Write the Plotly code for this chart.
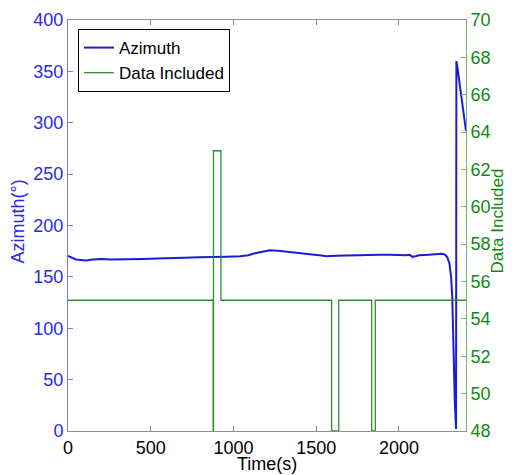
import plotly.graph_objects as go

# Azimuth series (time in s, azimuth in degrees)
time_az = [0, 25, 48, 80, 108, 150, 198, 260, 360, 450, 540, 619, 700, 790, 877,
           960, 1040, 1090, 1130, 1180, 1220, 1270, 1340, 1400, 1460, 1520, 1563,
           1620, 1700, 1800, 1881, 1950, 2001, 2043, 2065, 2080, 2100, 2121, 2180,
           2230, 2260, 2280, 2292, 2305, 2315, 2322, 2326, 2332, 2338, 2345, 2347,
           2352, 2365, 2385, 2405]
azimuth = [170.5, 169, 167, 166.5, 166, 167, 167.5, 167, 167, 167.5, 168, 168, 168.5, 169, 169,
           169.5, 170, 171, 173, 175, 176, 175.5, 174, 173, 172, 171, 170,
           170.5, 171, 171.5, 171.5, 171.5, 171, 171, 171.5, 169.5, 170, 171, 171.5,
           172, 172.5, 171.5, 169, 163, 150, 130, 100, 60, 25, 2, 360,
           355, 340, 315, 292]

# Data Included step series
time_data = [0, 877, 879, 924, 1593, 1636, 1835, 1857, 2405]
data_included = [55, 48, 63, 55, 48, 55, 48, 55, 55]

x_ticks = [0, 500, 1000, 1500, 2000]
y1_ticks = [0, 50, 100, 150, 200, 250, 300, 350, 400]
y2_ticks = [48, 50, 52, 54, 56, 58, 60, 62, 64, 66, 68, 70]

BLUE = "#1c1cd8"
BLUE_TXT = "#2a2ae0"
BLUE_AX = "#7a7ae0"
GREEN = "#2f8f2f"
GREEN_TXT = "#128a12"
GREEN_AX = "#6fb86f"
FONT = "Liberation Sans, Arial, sans-serif"

fig = go.Figure()
fig.add_trace(go.Scatter(x=time_az, y=azimuth, mode="lines", name="Azimuth",
                         line=dict(color=BLUE, width=2)))
fig.add_trace(go.Scatter(x=time_data, y=data_included, mode="lines", name="Data Included",
                         line=dict(color=GREEN, width=1.3, shape="hv"), yaxis="y2"))

# the page body adds an 8px offset; size/margins compensate so the plot sits at 68..466 x 20..431
fig.update_layout(
    width=506, height=467,
    margin=dict(l=60, r=48, t=12, b=44),
    paper_bgcolor="white", plot_bgcolor="white",
    font=dict(family=FONT, size=18, color="black"),
    showlegend=True,
    legend=dict(x=0.025, y=0.978, xanchor="left", yanchor="top",
                bgcolor="white", bordercolor="black", borderwidth=1,
                font=dict(size=17, family=FONT, color="black"),
                tracegroupgap=0, itemwidth=30),
    xaxis=dict(range=[0, 2405], tickvals=x_ticks, ticks="inside", ticklen=5,
               tickcolor="#808080", showline=True, linecolor="#909090", linewidth=1,
               mirror="ticks", showgrid=False, zeroline=False, automargin=False,
               tickfont=dict(size=18, color="black")),
    yaxis=dict(range=[0, 400], tickvals=y1_ticks, ticks="inside", ticklen=5,
               tickcolor=BLUE_AX, showline=True, linecolor=BLUE_AX, linewidth=1,
               showgrid=False, zeroline=False, automargin=False,
               tickfont=dict(size=18, color=BLUE_TXT)),
    yaxis2=dict(range=[48, 70], tickvals=y2_ticks, ticks="inside", ticklen=5,
                tickcolor=GREEN_AX, showline=True, linecolor=GREEN_AX, linewidth=1,
                overlaying="y", side="right", showgrid=False, zeroline=False,
                automargin=False,
                tickfont=dict(size=18, color=GREEN_TXT)),
)

# Axis titles
fig.add_annotation(text="Time(s)", xref="paper", yref="paper", x=0.499, y=-0.08,
                   xanchor="center", yanchor="middle", showarrow=False,
                   font=dict(size=18, color="black", family=FONT))
fig.add_annotation(text="Azimuth(°)", xref="paper", yref="paper", x=-0.1256, y=0.51,
                   xanchor="center", yanchor="middle", showarrow=False, textangle=-90,
                   font=dict(size=18, color=BLUE_TXT, family=FONT))
fig.add_annotation(text="Data Included", xref="paper", yref="paper", x=1.078, y=0.51,
                   xanchor="center", yanchor="middle", showarrow=False, textangle=-90,
                   font=dict(size=17, color=GREEN_TXT, family=FONT))

fig.write_html("out.html")
